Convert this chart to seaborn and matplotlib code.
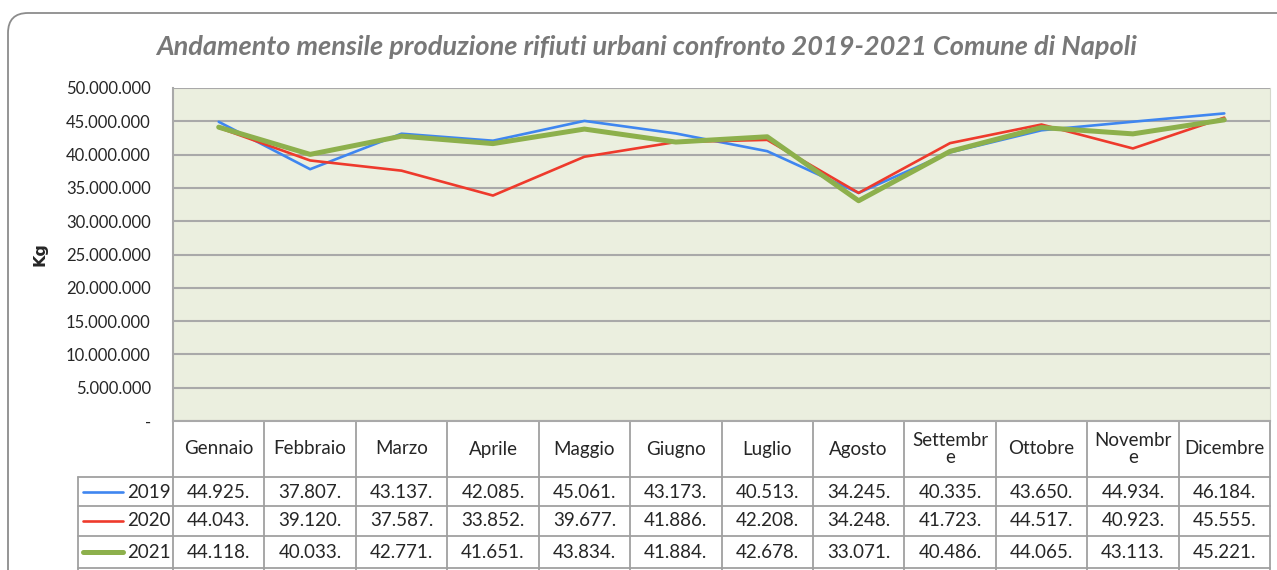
import matplotlib
matplotlib.use("Agg")
import matplotlib.pyplot as plt
import matplotlib.ticker as ticker
from matplotlib.patches import FancyBboxPatch
from matplotlib.transforms import IdentityTransform
import pandas as pd
import seaborn as sns

# === DATI (migliaia di kg, come mostrati in tabella) ===
mesi = ["Gennaio", "Febbraio", "Marzo", "Aprile", "Maggio", "Giugno",
        "Luglio", "Agosto", "Settembr\ne", "Ottobre", "Novembr\ne", "Dicembre"]
anni = ["2019", "2020", "2021"]
v2019 = [44925, 37807, 43137, 42085, 45061, 43173, 40513, 34245, 40335, 43650, 44934, 46184]
v2020 = [44043, 39120, 37587, 33852, 39677, 41886, 42208, 34248, 41723, 44517, 40923, 45555]
v2021 = [44118, 40033, 42771, 41651, 43834, 41884, 42678, 33071, 40486, 44065, 43113, 45221]

colori = {"2019": "#3f86f0", "2020": "#ee3a2c", "2021": "#8db04c"}
spessori = {"2019": 1.9, "2020": 1.9, "2021": 3.6}

serie = {"2019": v2019, "2020": v2020, "2021": v2021}
df = pd.concat([
    pd.DataFrame({"pos": range(len(mesi)), "kg": [v * 1000 for v in vals], "anno": a})
    for a, vals in serie.items()
])

sns.set_style("white")
plt.rcParams["font.family"] = ["Lato", "DejaVu Sans"]

W, H = 1277, 570
fig = plt.figure(figsize=(W / 100, H / 100), dpi=100)

# cornice arrotondata
fig.patches.append(FancyBboxPatch((8, -30), 1320, H - 13 + 30,
                                  boxstyle="round,pad=0,rounding_size=20",
                                  transform=IdentityTransform(), fill=False,
                                  ec="#8c8c8c", lw=1.3, zorder=0))

ax = fig.add_axes([173 / W, 1 - 421 / H, 1097 / W, 333 / H])
ax.set_facecolor("#ebefdf")

for a in anni:
    sns.lineplot(data=df[df["anno"] == a], x="pos", y="kg", ax=ax,
                 color=colori[a], lw=spessori[a], legend=False, zorder=3)

ax.set_xlim(-0.5, len(mesi) - 0.5)
ax.set_ylim(0, 50_000_000)
ax.yaxis.set_major_locator(ticker.MultipleLocator(5_000_000))
ax.yaxis.set_major_formatter(ticker.FuncFormatter(
    lambda v, p: "-" if v == 0 else f"{int(v):,}".replace(",", ".")))
ax.tick_params(axis="y", labelsize=12, length=0, pad=16)
ax.set_xticks([])
ax.set_xlabel("")
ax.grid(axis="y", color="#a9a9a9", lw=1.5)
for s in ["left", "bottom"]:
    ax.spines[s].set_color("#a9a9a9")
    ax.spines[s].set_linewidth(1.5)
ax.spines["top"].set_visible(False)
ax.spines["right"].set_color("#d5d8cc")
ax.set_ylabel("Kg", fontsize=11.5, fontweight="bold", family="DejaVu Sans")
ax.yaxis.set_label_coords(-0.114, 0.5)

# === TABELLA DATI ===
tr = ax.get_xaxis_transform()
py = lambda p: (421 - p) / 333  # pixel -> frazione asse
righe = [477, 506, 536, 568]
grigio = "#a0a0a0"
x_sx = -1.54
n = len(mesi)
for k in range(n + 1):
    ax.plot([k - 0.5, k - 0.5], [0, py(575)], transform=tr, color=grigio,
            lw=1.3, clip_on=False)
ax.plot([x_sx, x_sx], [py(477), py(575)], transform=tr, color=grigio,
        lw=1.3, clip_on=False)
for r in righe:
    ax.plot([x_sx, n - 0.5], [py(r), py(r)], transform=tr, color=grigio,
            lw=1.3, clip_on=False)

for i, m in enumerate(mesi):
    ax.text(i, py(449), m, transform=tr, ha="center", va="center",
            fontsize=13.5, linespacing=1.0)

centri = [492, 521, 552]
for a, yc in zip(anni, centri):
    ax.plot([-1.48, -1.05], [py(yc), py(yc)], transform=tr, color=colori[a],
            lw=spessori[a], clip_on=False, solid_capstyle="round")
    ax.text(-0.53, py(yc), a, transform=tr, ha="right", va="center", fontsize=13.5)
    for i, v in enumerate(serie[a]):
        ax.text(i, py(yc), f"{v // 1000}.{v % 1000:03d}.", transform=tr,
                ha="center", va="center", fontsize=13.5)

fig.text(647 / W, 1 - 47 / H,
         "Andamento mensile produzione rifiuti urbani confronto 2019-2021 Comune di Napoli",
         ha="center", va="center", fontsize=19.5, fontweight="bold",
         fontstyle="italic", color="#787878")

fig.savefig("out.png", dpi=100)
